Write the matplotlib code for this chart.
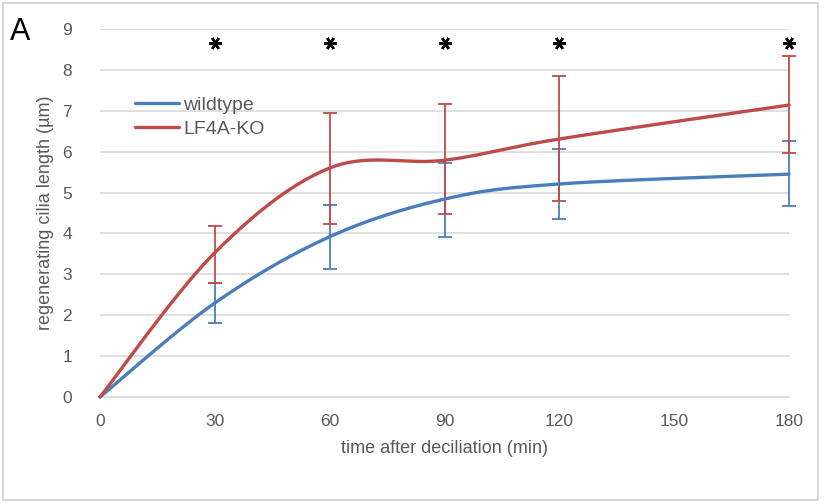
"""Regenerating cilia length after deciliation: wildtype vs LF4A-KO."""

import matplotlib.pyplot as plt
import numpy as np
from matplotlib.patches import Rectangle

# time points (min)
time_min = [0, 30, 60, 90, 120, 180]

wt_mean = [0.0, 2.30, 3.92, 4.84, 5.21, 5.45]
wt_upper = [0.0, 2.79, 4.69, 5.72, 6.07, 6.26]
wt_lower = [0.0, 1.81, 3.14, 3.92, 4.35, 4.66]

ko_mean = [0.0, 3.53, 5.60, 5.79, 6.31, 7.14]
ko_upper = [0.0, 4.18, 6.94, 7.16, 7.85, 8.34]
ko_lower = [0.0, 2.80, 4.24, 4.48, 4.79, 5.97]

star_times = [30, 60, 90, 120, 180]
star_level = 8.66

x_ticks = [0, 30, 60, 90, 120, 150, 180]
y_ticks = list(range(0, 10))

BLUE = "#4a7ebb"
RED = "#be4b48"
TEXT = "#595959"


def excel_smooth(x, y, n=40):
    """Bezier smoothing in the style of spreadsheet 'smoothed line' charts."""
    p = np.column_stack([x, y]).astype(float)
    pts = np.vstack([p[0], p, p[-1]])
    out = []
    t = np.linspace(0, 1, n)[:, None]
    for i in range(1, len(pts) - 2):
        p0, p1, p2, p3 = pts[i - 1], pts[i], pts[i + 1], pts[i + 2]
        c1 = p1 + (p2 - p0) / 6.0
        c2 = p2 - (p3 - p1) / 6.0
        seg = ((1 - t) ** 3) * p1 + 3 * ((1 - t) ** 2) * t * c1 \
            + 3 * (1 - t) * t ** 2 * c2 + t ** 3 * p2
        out.append(seg)
    curve = np.vstack(out)
    return curve[:, 0], curve[:, 1]


fig = plt.figure(figsize=(8.25, 5.04), dpi=100)
plt.rcParams["font.family"] = ["Liberation Sans", "DejaVu Sans"]

# outer chart frame
fig.patches.append(Rectangle((3 / 825, 4 / 504), 815 / 825, 497 / 504,
                             transform=fig.transFigure, fill=False,
                             edgecolor="#d0d0d0", linewidth=1.2))

ax = fig.add_axes([100 / 825, 1 - 397 / 504, 689 / 825, 368 / 504])

for mean, up, lo, color, label in [
    (wt_mean, wt_upper, wt_lower, BLUE, "wildtype"),
    (ko_mean, ko_upper, ko_lower, RED, "LF4A-KO"),
]:
    xs, ys = excel_smooth(time_min, mean)
    ax.plot(xs, ys, color=color, lw=2.4, label=label, solid_capstyle="round",
            zorder=3, clip_on=False)
    m = np.array(mean[1:])
    yerr = [m - np.array(lo[1:]), np.array(up[1:]) - m]
    eb = ax.errorbar(time_min[1:], m, yerr=yerr, fmt="none", ecolor=color,
                     elinewidth=1.3, capsize=5, capthick=1.3, zorder=2)
    for artist in eb.lines[1] + eb.lines[2]:
        artist.set_clip_on(False)

ax.plot(star_times, [star_level] * len(star_times), linestyle="none",
        marker=(6, 2, 90), markersize=9, mew=1.8, color="black", zorder=4,
        clip_on=False)

ax.set_xlim(0, 180)
ax.set_ylim(0, 9)
ax.set_xticks(x_ticks)
ax.set_yticks(y_ticks)
ax.tick_params(length=0, labelsize=12.5, labelcolor=TEXT, pad=12)
ax.tick_params(axis="y", pad=20)
ax.grid(axis="y", color="#d9d9d9", linewidth=1.2)
ax.set_axisbelow(True)
for side in ["top", "right", "left"]:
    ax.spines[side].set_visible(False)
ax.spines["bottom"].set_color("#d9d9d9")
ax.spines["bottom"].set_linewidth(1.2)

ax.set_xlabel("time after deciliation (min)", fontsize=13, color=TEXT, labelpad=8)
ax.set_ylabel("regenerating cilia length (\u00b5m)", fontsize=13, color=TEXT, labelpad=6)

ax.legend(loc="upper left", bbox_to_anchor=(0.025, 0.865), frameon=False,
          fontsize=14, handlelength=2.3, handletextpad=0.2, labelspacing=0.35,
          labelcolor=TEXT)

fig.text(10 / 825, 1 - 32 / 504, "A", fontsize=22, va="center", ha="left")

fig.savefig("out.png", dpi=100)
